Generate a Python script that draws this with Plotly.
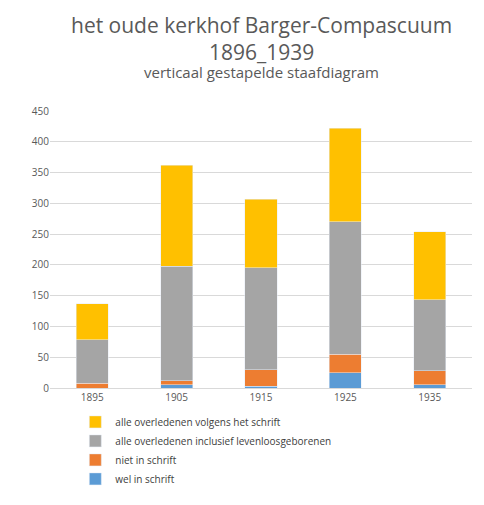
import plotly.graph_objects as go

years = ["1895", "1905", "1915", "1925", "1935"]
# segment heights
wel = [0, 5, 3, 25, 5]
niet = [8, 7, 27, 30, 23]
levenloos = [70, 186, 165, 215, 115]
volgens = [59, 164, 112, 152, 111]

names = ["wel in schrift", "niet in schrift",
         "alle overledenen inclusief levenloosgeborenen",
         "alle overledenen volgens het schrift"]
colors = ["#5B9BD5", "#ED7D31", "#A5A5A5", "#FFC000"]

fig = go.Figure()
for name, vals, col in zip(names, [wel, niet, levenloos, volgens], colors):
    fig.add_trace(go.Bar(x=years, y=vals, name=name, marker_color=col, width=0.38))

fig.add_annotation(text="het oude kerkhof Barger-Compascuum<br>1896_1939",
                   xref="paper", yref="paper", x=0.5, y=1.37, yanchor="top",
                   showarrow=False, font=dict(size=21, color="#595959"))
fig.add_annotation(text="verticaal gestapelde staafdiagram",
                   xref="paper", yref="paper", x=0.5, y=1.185, yanchor="top",
                   showarrow=False, font=dict(size=15, color="#595959"))

fig.update_layout(
    barmode="stack",
    width=484, height=505,
    paper_bgcolor="white", plot_bgcolor="white",
    font=dict(family="Open Sans", color="#595959"),
    margin=dict(l=42, r=20, t=103, b=125),
    legend=dict(orientation="v", traceorder="reversed", x=0.06, y=-0.07,
                yanchor="top", font=dict(size=10, color="#404040"), tracegroupgap=4),
    bargap=0.6,
)
fig.update_yaxes(range=[0, 450], dtick=50, gridcolor="#D9D9D9", tickfont=dict(size=10),
                 zeroline=False, showline=False)
fig.update_xaxes(tickfont=dict(size=10), showline=True, linecolor="#D9D9D9")
fig.write_html("out.html")
